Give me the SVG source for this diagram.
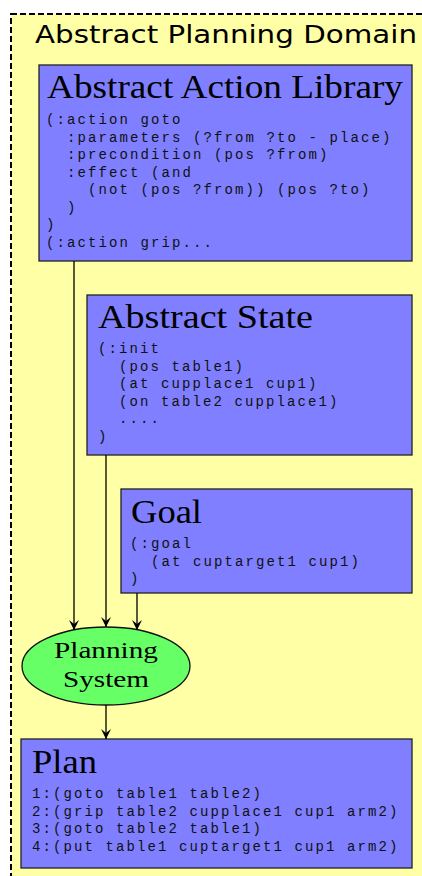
<svg xmlns="http://www.w3.org/2000/svg" width="422" height="876" viewBox="0 0 422 876">
  <style>
    .cluster { fill: #ffffa6; stroke: #000; stroke-width: 2; stroke-dasharray: 6 3; }
    .box { fill: #7f7fff; stroke: #222; stroke-width: 1.3; }
    .sys { fill: #66ff66; stroke: #111; stroke-width: 1.3; }
    .ctitle { font-family: "DejaVu Sans", "Liberation Sans", sans-serif; font-size: 25px; fill: #000; }
    .title { font-family: "Liberation Serif", "Times New Roman", serif; font-size: 34px; fill: #000; }
    .code { font-family: "Liberation Mono", "Courier New", monospace; font-size: 14px; letter-spacing: 2.1px; fill: #111; white-space: pre; }
    .label { font-family: "Liberation Serif", "Times New Roman", serif; font-size: 24px; fill: #000; text-anchor: middle; }
    .edge { fill: none; stroke: #000; stroke-width: 1.3; }
  </style>
  <defs>
    <marker id="vee" viewBox="0 0 10 10" refX="10" refY="5" markerWidth="10" markerHeight="10" markerUnits="userSpaceOnUse" orient="auto">
      <path d="M0,0 L10,5 L0,10 L4,5 Z" fill="#000"/>
    </marker>
  </defs>

  <rect width="422" height="876" fill="#fff"/>

  <!-- outer domain cluster, running off the right and bottom edges -->
  <g id="domain">
    <rect class="cluster" x="11" y="14" width="430" height="880"/>
    <text class="ctitle" x="35" y="43" textLength="382" lengthAdjust="spacingAndGlyphs">Abstract Planning Domain</text>
  </g>

  <g id="action-library">
    <rect class="box" x="39" y="65" width="373" height="196"/>
    <text class="title" x="47" y="98" textLength="356" lengthAdjust="spacingAndGlyphs">Abstract Action Library</text>
    <text class="code" x="46" y="124">(:action goto</text>
    <text class="code" x="46" y="141.5">  :parameters (?from ?to - place)</text>
    <text class="code" x="46" y="159">  :precondition (pos ?from)</text>
    <text class="code" x="46" y="176.5">  :effect (and</text>
    <text class="code" x="46" y="194">    (not (pos ?from)) (pos ?to)</text>
    <text class="code" x="46" y="211.5">  )</text>
    <text class="code" x="46" y="229">)</text>
    <text class="code" x="46" y="246.5">(:action grip...</text>
  </g>

  <g id="abstract-state">
    <rect class="box" x="87" y="295" width="325" height="160"/>
    <text class="title" x="98" y="328" textLength="215" lengthAdjust="spacingAndGlyphs">Abstract State</text>
    <text class="code" x="98" y="353">(:init</text>
    <text class="code" x="98" y="370.5">  (pos table1)</text>
    <text class="code" x="98" y="388">  (at cupplace1 cup1)</text>
    <text class="code" x="98" y="405.5">  (on table2 cupplace1)</text>
    <text class="code" x="98" y="423">  ....</text>
    <text class="code" x="98" y="440.5">)</text>
  </g>

  <g id="goal">
    <rect class="box" x="121" y="489" width="291" height="104"/>
    <text class="title" x="131" y="523" textLength="71" lengthAdjust="spacingAndGlyphs">Goal</text>
    <text class="code" x="130" y="548">(:goal</text>
    <text class="code" x="130" y="565.5">  (at cuptarget1 cup1)</text>
    <text class="code" x="130" y="583">)</text>
  </g>

  <g id="planning-system">
    <ellipse class="sys" cx="106" cy="666" rx="84" ry="39"/>
    <text class="label" x="106" y="658" textLength="104" lengthAdjust="spacingAndGlyphs">Planning</text>
    <text class="label" x="106" y="687" textLength="86" lengthAdjust="spacingAndGlyphs">System</text>
  </g>

  <g id="plan">
    <rect class="box" x="21" y="739" width="391" height="129"/>
    <text class="title" x="32" y="773" textLength="65" lengthAdjust="spacingAndGlyphs">Plan</text>
    <text class="code" x="32" y="798">1:(goto table1 table2)</text>
    <text class="code" x="32" y="815.5">2:(grip table2 cupplace1 cup1 arm2)</text>
    <text class="code" x="32" y="833">3:(goto table2 table1)</text>
    <text class="code" x="32" y="850.5">4:(put table1 cuptarget1 cup1 arm2)</text>
  </g>

  <g id="connectors">
    <line class="edge" x1="74" y1="261" x2="74" y2="630" marker-end="url(#vee)"/>
    <line class="edge" x1="106" y1="455" x2="106" y2="627" marker-end="url(#vee)"/>
    <line class="edge" x1="137" y1="593" x2="137" y2="630" marker-end="url(#vee)"/>
    <line class="edge" x1="106" y1="705" x2="106" y2="739" marker-end="url(#vee)"/>
  </g>
</svg>
